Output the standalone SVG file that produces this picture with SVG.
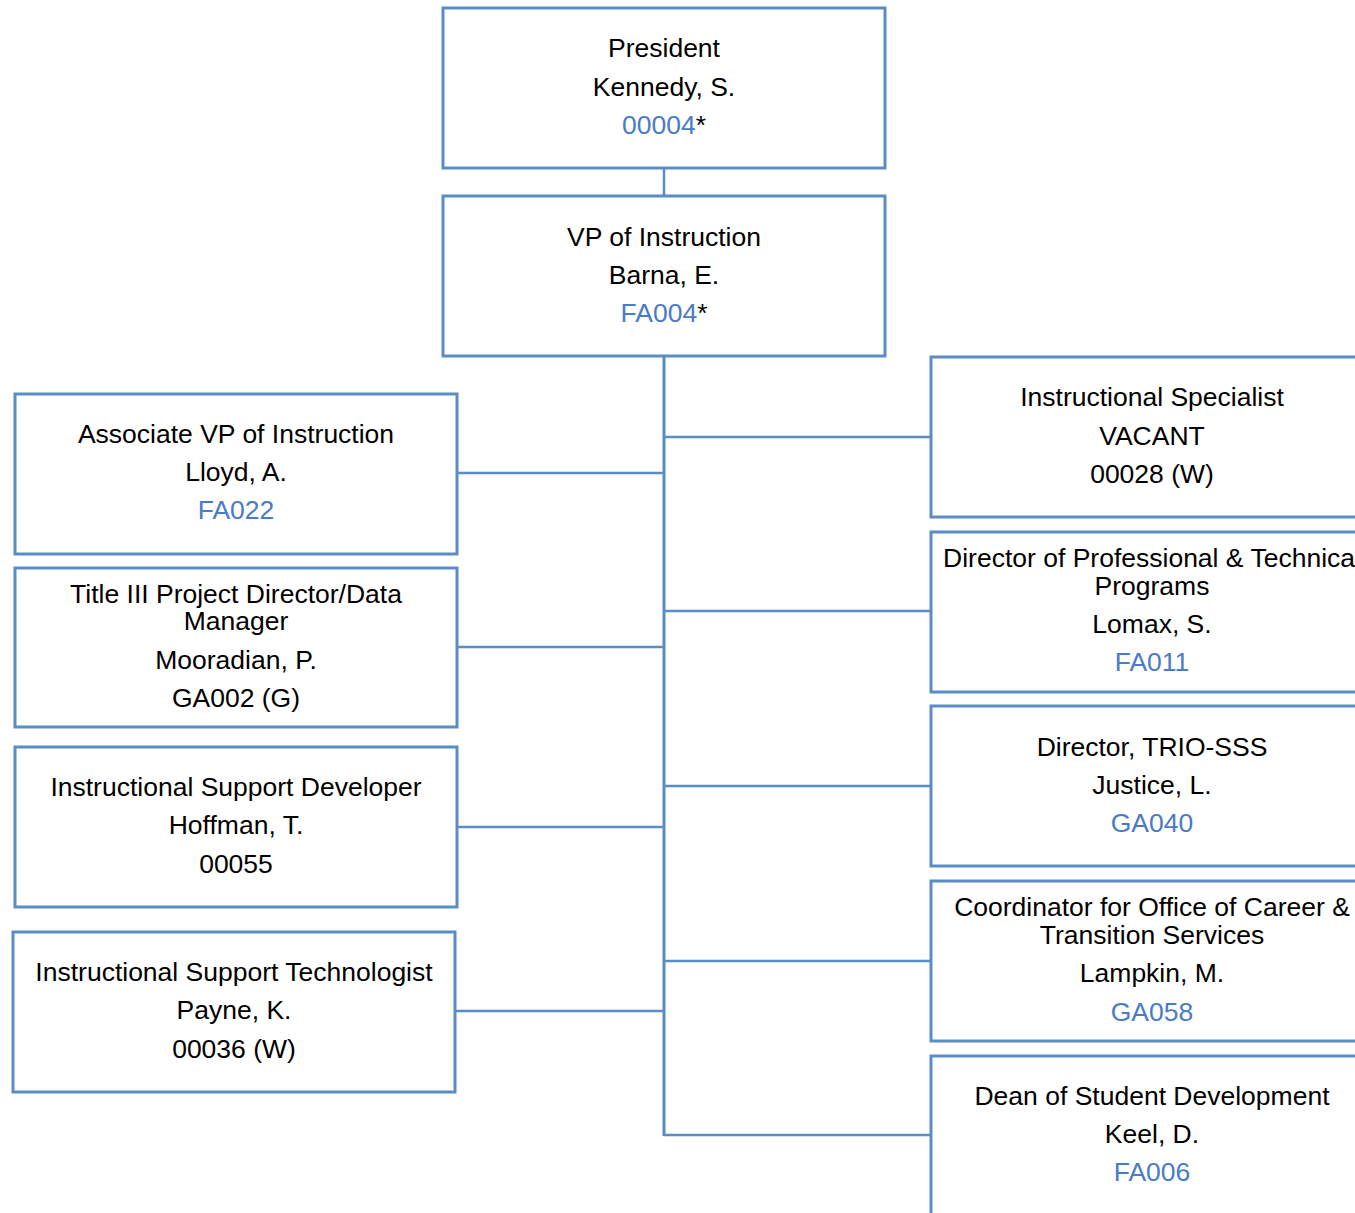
<svg xmlns="http://www.w3.org/2000/svg" width="1355" height="1213" viewBox="0 0 1355 1213">
<style>
.box{fill:#fff;stroke:#5B8DC5;stroke-width:3}
.c{fill:none;stroke:#5B8DC5;stroke-width:2.5}
text{font-family:"Liberation Sans",Arial,sans-serif;font-size:26.5px;fill:#000;text-anchor:middle}
.b{fill:#4A7BC8}
</style>
<rect width="1355" height="1213" fill="#fff"/>
<g id="connectors">
<path class="c" d="M664 168V196"/>
<path class="c" d="M664 356V1136" style="stroke-width:3"/>
<path class="c" d="M457 473H664M457 647H664M457 827H664M455 1011H664"/>
<path class="c" d="M664 437H931M664 611H931M664 786H931M664 961H931M664 1135H931"/>
</g>
<g id="president"><rect class="box" x="443" y="8" width="442" height="160"/>
<text x="664" y="57">President</text><text x="664" y="96">Kennedy, S.</text><text x="664" y="134"><tspan class="b">00004</tspan>*</text></g>
<g id="vp"><rect class="box" x="443" y="196" width="442" height="160"/>
<text x="664" y="246">VP of Instruction</text><text x="664" y="284">Barna, E.</text><text x="664" y="322"><tspan class="b">FA004</tspan>*</text></g>
<g id="assoc"><rect class="box" x="15" y="394" width="442" height="160"/>
<text x="236" y="443">Associate VP of Instruction</text><text x="236" y="481">Lloyd, A.</text><text x="236" y="519" class="b">FA022</text></g>
<g id="title3"><rect class="box" x="15" y="568" width="442" height="159"/>
<text x="236" y="603">Title III Project Director/Data</text><text x="236" y="630">Manager</text><text x="236" y="669">Mooradian, P.</text><text x="236" y="707">GA002 (G)</text></g>
<g id="isd"><rect class="box" x="15" y="747" width="442" height="160"/>
<text x="236" y="796">Instructional Support Developer</text><text x="236" y="834">Hoffman, T.</text><text x="236" y="873">00055</text></g>
<g id="ist"><rect class="box" x="13" y="932" width="442" height="160"/>
<text x="234" y="981">Instructional Support Technologist</text><text x="234" y="1019">Payne, K.</text><text x="234" y="1058">00036 (W)</text></g>
<g id="spec"><rect class="box" x="931" y="357" width="442" height="160"/>
<text x="1152" y="406">Instructional Specialist</text><text x="1152" y="445">VACANT</text><text x="1152" y="483">00028 (W)</text></g>
<g id="dirpt"><rect class="box" x="931" y="532" width="442" height="160"/>
<text x="1152" y="567">Director of Professional &amp; Technical</text><text x="1152" y="595">Programs</text><text x="1152" y="633">Lomax, S.</text><text x="1152" y="671" class="b">FA011</text></g>
<g id="trio"><rect class="box" x="931" y="706" width="442" height="160"/>
<text x="1152" y="756">Director, TRIO-SSS</text><text x="1152" y="794">Justice, L.</text><text x="1152" y="832" class="b">GA040</text></g>
<g id="coord"><rect class="box" x="931" y="881" width="442" height="160"/>
<text x="1152" y="916">Coordinator for Office of Career &amp;</text><text x="1152" y="944">Transition Services</text><text x="1152" y="982">Lampkin, M.</text><text x="1152" y="1021" class="b">GA058</text></g>
<g id="dean"><rect class="box" x="931" y="1056" width="442" height="160"/>
<text x="1152" y="1105">Dean of Student Development</text><text x="1152" y="1143">Keel, D.</text><text x="1152" y="1181" class="b">FA006</text></g>
</svg>
